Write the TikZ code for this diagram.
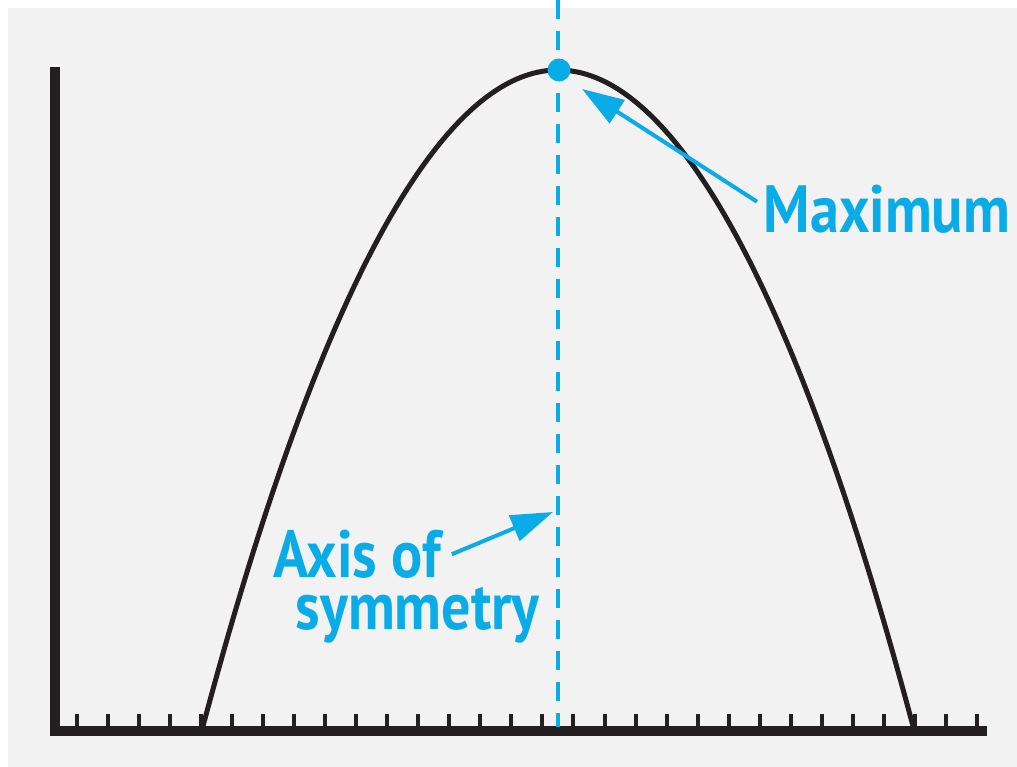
\documentclass[tikz,border=0pt]{standalone}
\usepackage{fontspec}
\setmainfont{PT Sans}
\newfontfamily\calloutfont[FakeStretch=0.87]{PT Sans}
\usetikzlibrary{arrows.meta}
\definecolor{symcyan}{HTML}{0AACE8}
\definecolor{paper}{HTML}{F2F2F2}
\definecolor{ink}{HTML}{231F20}

\begin{document}
\begin{tikzpicture}[
    x=0.01cm, y=-0.01cm,
    axisline/.style={ink, line width=0.105cm},
    tickmark/.style={ink, line width=0.04cm},
    curve/.style={ink, line width=0.05cm},
    symline/.style={symcyan, line width=0.038cm, dash pattern=on 0.19cm off 0.12cm},
    pointer/.style={symcyan, line width=0.04cm, -{Triangle[length=0.42cm, width=0.27cm]}},
    callout/.style={symcyan, font=\calloutfont\fontsize{19}{20}\selectfont\bfseries, inner sep=0pt}
]

% Frame of the picture
\useasboundingbox (0,0) rectangle (1017,767);
\fill[paper] (8,8) rectangle (1017,767);

% The parabola (drawn behind the axes)
\draw[curve] (203,726) parabola bend (558,70) (913,726);

% Axes
\draw[axisline] (55,67) -- (55,736);
\draw[axisline] (50,731) -- (987,731);

% Tick marks along the bottom
\foreach \i in {0,...,29}
    \draw[tickmark] ({77+31.03*\i},714) -- ({77+31.03*\i},727);

% Axis of symmetry
\coordinate (axtop) at (558,0);
\coordinate (axbot) at (558,727);
\draw[symline] (axtop) -- (axbot);

% Vertex point
\node[circle, fill=symcyan, minimum size=0.23cm, inner sep=0pt] (vertex) at (559,70) {};

% Labels
\node[callout, anchor=base west] (maxlabel) at (763,233) {Maximum};
\node[callout, anchor=base west, text depth=0pt] (axislabel) at (273,578) {Axis of};
\node[callout, anchor=base west, text height=0.42cm] (symlabel) at (295,630) {symmetry};

% Pointers
\coordinate (maxtip) at (582,89);
\coordinate (axistip) at (553,512);
\draw[pointer] ([xshift=-0.06cm, yshift=0.08cm]maxlabel.west) -- (maxtip);
\draw[pointer] ([xshift=0.1cm]axislabel.east) -- (axistip);

\end{tikzpicture}
\end{document}
